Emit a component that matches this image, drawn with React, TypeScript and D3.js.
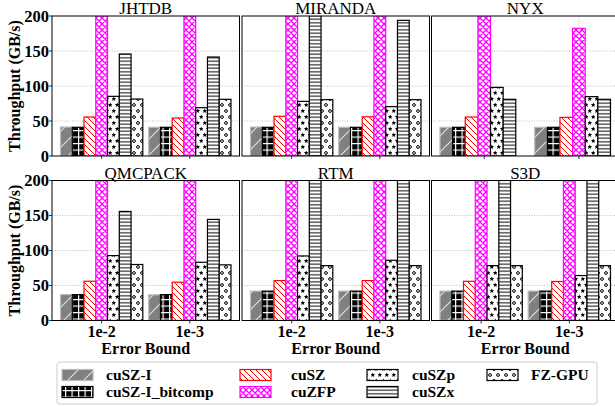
import React from 'react';
import * as d3 from 'd3';

const datasets = ['JHTDB', 'MIRANDA', 'NYX', 'QMCPACK', 'RTM', 'S3D'];
const errorBounds = ['1e-2', '1e-3'];
const seriesNames = ['cuSZ-I', 'cuSZ-I_bitcomp', 'cuSZ', 'cuZFP', 'cuSZp', 'cuSZx', 'FZ-GPU'];
const yTicks = [0, 50, 100, 150, 200];

// values per dataset: [1e-2, 1e-3]; null = not available
const cuSZI = [[41.4, 41], [41.4, 41], [41, 41], [37, 36.7], [42, 42], [42, 42]];
const cuSZIBitcomp = [[41, 41], [41, 41], [41, 41], [37, 37], [42, 42], [42, 42]];
const cuSZ = [[55.7, 54.3], [56.7, 56], [55.7, 55.2], [56.1, 54.7], [57, 57], [56, 55.7]];
const cuZFP = [[420, 430], [380, 390], [400, 182.4], [410, 415], [390, 395], [400, 405]];
const cuSZp = [[85.2, 69], [78, 70.5], [98, 84.8], [92.7, 83.2], [92.2, 86], [78.4, 64.2]];
const cuSZx = [[145.7, 141.4], [240, 193.8], [81, 81], [155.8, 144.4], [260, 255], [250, 245]];
const fzGPU = [[81.4, 81], [80.5, 80.5], [null, null], [80, 79.5], [78.4, 78.4], [78.4, 78.4]];

const seriesValues = [cuSZI, cuSZIBitcomp, cuSZ, cuZFP, cuSZp, cuSZx, fzGPU];

const FONT = '"Liberation Serif", "Times New Roman", serif';
const patternIds = ['p-cuszi', 'p-bitcomp', 'p-cusz', 'p-cuzfp', 'p-cuszp', 'p-cuszx', 'p-fzgpu'];
const edgeColors = ['#bbbbbb', '#000000', '#ff0000', '#ff00ff', '#000000', '#000000', '#000000'];

const panelLefts = [52, 242, 431.5];
const panelWidth = 187.5;
const rowTops = [16, 180.5];
const panelHeight = 140;
const BW = 1 / 7.5;

function starPath(cx: number, cy: number, r: number) {
  const pts: string[] = [];
  for (let i = 0; i < 10; i++) {
    const rr = i % 2 === 0 ? r : r * 0.42;
    const a = -Math.PI / 2 + (i * Math.PI) / 5;
    pts.push(`${(cx + rr * Math.cos(a)).toFixed(2)},${(cy + rr * Math.sin(a)).toFixed(2)}`);
  }
  return 'M' + pts.join('L') + 'Z';
}

function Patterns() {
  return (
    <defs>
      <pattern id="p-cuszi" patternUnits="userSpaceOnUse" width="16" height="16">
        <rect width="16" height="16" fill="#808080" />
        <path d="M-2,18 L18,-2 M-4,4 L4,-4 M12,20 L20,12" stroke="#e0e0e0" strokeWidth="1.2" />
      </pattern>
      <pattern id="p-bitcomp" patternUnits="userSpaceOnUse" width="6.5" height="6.5">
        <rect width="6.5" height="6.5" fill="#000" />
        <path d="M0.6,0 V6.5 M0,0.6 H6.5" stroke="#fff" strokeWidth="1.2" />
      </pattern>
      <pattern id="p-cusz" patternUnits="userSpaceOnUse" width="6" height="6">
        <rect width="6" height="6" fill="#fff" />
        <path d="M-1,-1 L7,7 M-1,5 L1,7 M5,-1 L7,1" stroke="#ff0000" strokeWidth="1" />
      </pattern>
      <pattern id="p-cuzfp" patternUnits="userSpaceOnUse" width="6" height="6">
        <rect width="6" height="6" fill="#fff" />
        <path d="M-1,-1 L7,7 M-1,7 L7,-1 M-1,5 L1,7 M5,-1 L7,1 M-1,1 L1,-1 M5,7 L7,5" stroke="#ff00ff" strokeWidth="1.3" />
      </pattern>
      <pattern id="p-cuszp" patternUnits="userSpaceOnUse" width="7" height="12">
        <rect width="7" height="12" fill="#fff" />
        <path d={starPath(1.75, 3, 2.6) + starPath(5.25, 9, 2.6)} fill="#000" />
      </pattern>
      <pattern id="p-cuszx" patternUnits="userSpaceOnUse" width="6" height="3.5">
        <rect width="6" height="3.5" fill="#fff" />
        <path d="M0,1.75 H6" stroke="#000" strokeWidth="1" />
      </pattern>
      <pattern id="p-fzgpu" patternUnits="userSpaceOnUse" width="8" height="12">
        <rect width="8" height="12" fill="#fff" />
        <circle cx="2" cy="3" r="1.4" fill="none" stroke="#000" strokeWidth="1" />
        <circle cx="6" cy="9" r="1.4" fill="none" stroke="#000" strokeWidth="1" />
      </pattern>
      {[0, 1].map((r) =>
        [0, 1, 2].map((c) => (
          <clipPath id={`clip-${r}-${c}`} key={`${r}-${c}`}>
            <rect x={panelLefts[c]} y={rowTops[r]} width={panelWidth} height={panelHeight} />
          </clipPath>
        ))
      )}
    </defs>
  );
}

function Panel({ di }: { di: number }) {
  const r = Math.floor(di / 3);
  const c = di % 3;
  const left = panelLefts[c];
  const top = rowTops[r];
  const bottom = top + panelHeight;

  let lo = Infinity;
  let hi = -Infinity;
  seriesValues.forEach((sv, si) => {
    sv[di].forEach((v, g) => {
      if (v === null) return;
      const x0 = g + (si - 3.5) * BW;
      lo = Math.min(lo, x0);
      hi = Math.max(hi, x0 + BW);
    });
  });
  const pad = (hi - lo) * 0.05;
  const x = d3.scaleLinear().domain([lo - pad, hi + pad]).range([left, left + panelWidth]);
  const y = d3.scaleLinear().domain([0, 200]).range([bottom, top]);

  return (
    <g>
      {yTicks.slice(1, 4).map((t) => (
        <line key={t} x1={left} x2={left + panelWidth} y1={y(t)} y2={y(t)} stroke="#b0b0b0" strokeWidth={0.8} strokeDasharray="1,1.5" />
      ))}
      {errorBounds.map((eb, g) => (
        <line key={eb} x1={x(g)} x2={x(g)} y1={top} y2={bottom} stroke="#b0b0b0" strokeWidth={0.8} strokeDasharray="1,1.5" />
      ))}
      <g clipPath={`url(#clip-${r}-${c})`}>
        {seriesValues.map((sv, si) =>
          sv[di].map((v, g) => {
            if (v === null) return null;
            const x0 = x(g + (si - 3.5) * BW);
            const x1 = x(g + (si - 2.5) * BW);
            return (
              <rect
                key={`${si}-${g}`}
                x={x0}
                y={y(v)}
                width={x1 - x0}
                height={bottom - y(v)}
                fill={`url(#${patternIds[si]})`}
                stroke={edgeColors[si]}
                strokeWidth={1.2}
              />
            );
          })
        )}
      </g>
      <rect x={left} y={top} width={panelWidth} height={panelHeight} fill="none" stroke="#000" strokeWidth={1} />
      {errorBounds.map((eb, g) => (
        <line key={eb} x1={x(g)} x2={x(g)} y1={bottom} y2={bottom + 3} stroke="#000" strokeWidth={0.8} />
      ))}
      <text x={left + panelWidth / 2} y={top - 2} textAnchor="middle" fontFamily={FONT} fontSize={17}>
        {datasets[di]}
      </text>
      {c === 0 &&
        yTicks.map((t) => (
          <g key={t}>
            <line x1={left - 3} x2={left} y1={y(t)} y2={y(t)} stroke="#000" strokeWidth={0.8} />
            <text x={left - 3} y={y(t)} dy="0.35em" textAnchor="end" fontFamily={FONT} fontWeight="bold" fontSize={16.5}>
              {t}
            </text>
          </g>
        ))}
      {c === 0 && (
        <text
          transform={`translate(${14},${(top + bottom) / 2}) rotate(-90)`}
          dy="0.35em"
          textAnchor="middle"
          fontFamily={FONT}
          fontWeight="bold"
          fontSize={16}
        >
          Throughput (GB/s)
        </text>
      )}
      {r === 1 &&
        errorBounds.map((eb, g) => (
          <text key={eb} x={x(g)} y={bottom + 16} textAnchor="middle" fontFamily={FONT} fontWeight="bold" fontSize={16}>
            {eb}
          </text>
        ))}
      {r === 1 && (
        <text x={left + panelWidth / 2} y={bottom + 33} textAnchor="middle" fontFamily={FONT} fontWeight="bold" fontSize={16}>
          Error Bound
        </text>
      )}
    </g>
  );
}

function Legend() {
  const colPatch = [62, 240, 367, 487];
  const colText = [106, 291, 412, 531];
  const rowY = [375, 392];
  return (
    <g>
      <rect x={57} y={362} width={540} height={42} rx={3} fill="#fff" stroke="#cccccc" strokeWidth={1} />
      {seriesNames.map((name, i) => {
        const col = Math.floor(i / 2);
        const row = i % 2;
        return (
          <g key={name}>
            <rect
              x={colPatch[col]}
              y={rowY[row] - 5.5}
              width={31}
              height={11}
              fill={`url(#${patternIds[i]})`}
              stroke={edgeColors[i]}
              strokeWidth={1.2}
            />
            <text x={colText[col]} y={rowY[row]} dy="0.35em" fontFamily={FONT} fontWeight="bold" fontSize={15.5}>
              {name}
            </text>
          </g>
        );
      })}
    </g>
  );
}

export default function App() {
  return (
    <svg width={615} height={406} style={{ position: 'absolute', left: 0, top: 0, background: '#fff' }}>
      <Patterns />
      {datasets.map((d, i) => (
        <Panel key={d} di={i} />
      ))}
      <Legend />
    </svg>
  );
}
